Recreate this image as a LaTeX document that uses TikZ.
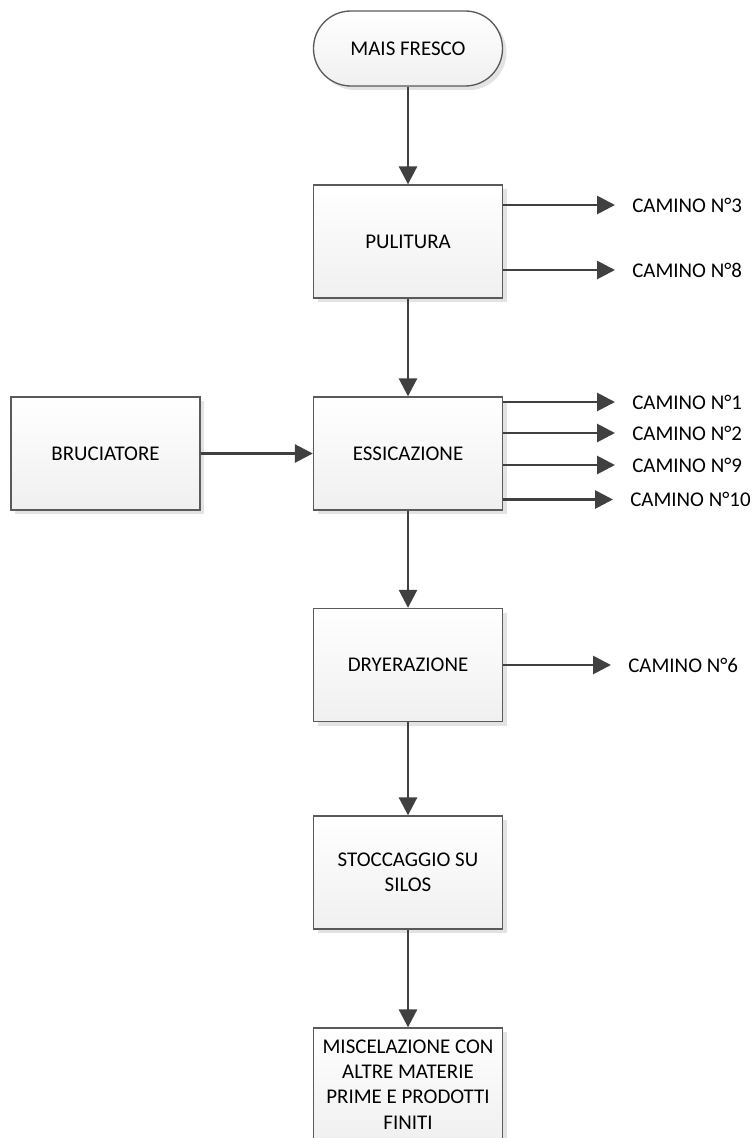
\documentclass[tikz,border=0pt]{standalone}
\usepackage{fontspec}
\setmainfont{Carlito}
\usetikzlibrary{arrows.meta,shadows,positioning}
\definecolor{linegray}{HTML}{404040}
\definecolor{boxline}{HTML}{5A5A5A}
\tikzset{
  stepbox/.style={draw=boxline, line width=1pt, top color=white, bottom color=gray!12,
    minimum width=141.75pt, minimum height=84.75pt, align=center,
    font=\fontsize{15.7}{19}\selectfont,
    drop shadow={shadow xshift=3pt, shadow yshift=-3pt, fill=gray!22, opacity=1}},
  termbox/.style={stepbox, rounded corners=28pt, minimum height=56.25pt},
  flow/.style={draw=linegray, line width=2.1pt, -{Triangle[length=13.5pt,width=13.5pt]}},
  camino/.style={anchor=west, inner sep=0pt, font=\fontsize{15.7}{19}\selectfont},
  ventflow/.style={flow, shorten >=12.75pt}
}
\begin{document}
\begin{tikzpicture}[x=0.75pt,y=-0.75pt]
\useasboundingbox (0,0) rectangle (755,1138);
% main line
\node[termbox] (mais) at (408,48.5) {MAIS FRESCO};
\node[stepbox] (pul) at (408,241.5) {PULITURA};
\node[stepbox] (ess) at (408,453.5) {ESSICAZIONE};
\node[stepbox] (bru) at (105.5,453.5) {BRUCIATORE};
\node[stepbox] (dry) at (408,665) {DRYERAZIONE};
\node[stepbox] (sto) at (408,872.5) {STOCCAGGIO SU\\SILOS};
\node[stepbox] (mis) at (408,1084.5) {MISCELAZIONE CON\\ALTRE MATERIE\\PRIME E PRODOTTI\\FINITI};
% camini
\node[camino] (c3) at (632,205) {CAMINO N°3};
\node[camino] (c8) at (632,270) {CAMINO N°8};
\node[camino] (c1) at (632,402) {CAMINO N°1};
\node[camino] (c2) at (632,433) {CAMINO N°2};
\node[camino] (c9) at (632,465) {CAMINO N°9};
\node[camino] (c10) at (630,499.5) {CAMINO N°10};
\node[camino] (c6) at (628,665) {CAMINO N°6};
% arrows
\draw[flow] (mais) -- (pul);
\draw[flow] (pul) -- (ess);
\draw[flow] (ess) -- (dry);
\draw[flow] (dry) -- (sto);
\draw[flow] (sto) -- (mis);
\draw[flow] (bru) -- (ess);
\draw[ventflow] (pul.east |- c3.west) -- (c3.west);
\draw[ventflow] (pul.east |- c8.west) -- (c8.west);
\draw[ventflow] (ess.east |- c1.west) -- (c1.west);
\draw[ventflow] (ess.east |- c2.west) -- (c2.west);
\draw[ventflow] (ess.east |- c9.west) -- (c9.west);
\draw[ventflow] (ess.east |- c10.west) -- (c10.west);
\draw[ventflow] (dry.east |- c6.west) -- (c6.west);
\end{tikzpicture}
\end{document}
